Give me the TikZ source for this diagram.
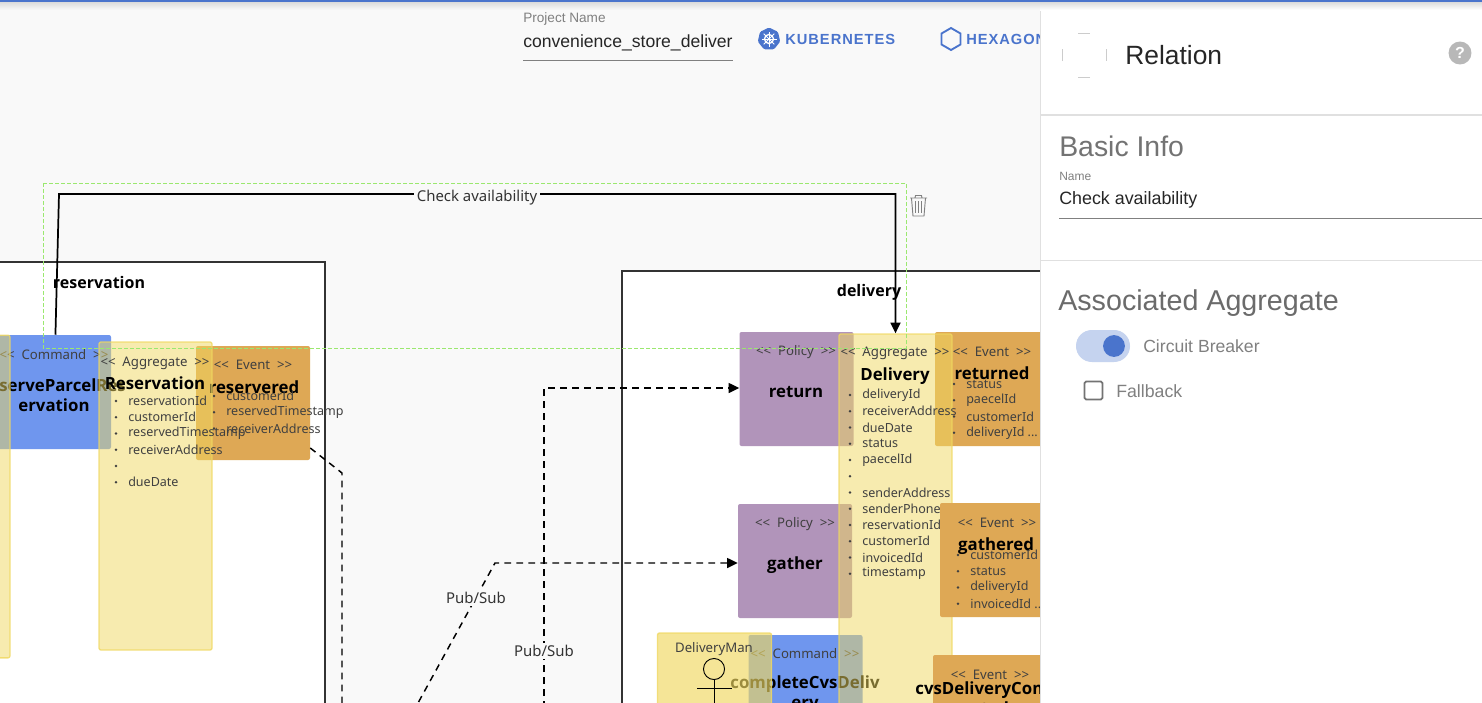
\documentclass[tikz,border=0pt]{standalone}
\usepackage{fontspec}
\usetikzlibrary{arrows.meta}

\newfontfamily\canvasfont{Noto Sans}
\newfontfamily\titlefont{Open Sans}
\newfontfamily\panelfont{Liberation Sans}
\newfontfamily\tabfont[LetterSpace=6.7]{Liberation Sans}

\definecolor{canvasbg}{HTML}{F9F9F9}
\definecolor{cmdblue}{HTML}{6F96EE}
\definecolor{eventorange}{HTML}{DEA855}
\definecolor{policypurple}{HTML}{B194BA}
\definecolor{aggyellow}{HTML}{F0D860}
\definecolor{brandblue}{HTML}{4A74CC}
\definecolor{selgreen}{HTML}{9BE86F}

\tikzset{
	modelbox/.style={rounded corners=1.5pt, minimum width=85.5pt, minimum height=85.5pt, inner sep=0pt},
	commandbox/.style={modelbox, fill=cmdblue},
	eventbox/.style={modelbox, fill=eventorange},
	policybox/.style={modelbox, fill=policypurple},
	aggbox/.style={modelbox, fill=aggyellow, fill opacity=0.5, draw=aggyellow, draw opacity=0.8, line width=1pt},
	actorbox/.style={modelbox, fill=aggyellow, fill opacity=0.65, draw=aggyellow, draw opacity=0.8, line width=1pt},
	framebox/.style={draw=black!80, line width=1.4pt, fill=white, inner sep=0pt},
	stereotext/.style={font=\canvasfont\fontsize{9.9}{11}\selectfont, text=black!75, inner sep=0pt},
	titletext/.style={font=\titlefont\bfseries\fontsize{12.6}{15}\selectfont, text=black, inner sep=0pt, align=center},
	attrtext/.style={font=\canvasfont\fontsize{9.4}{11}\selectfont, text=black!75, inner sep=0pt, anchor=west},
	linktext/.style={font=\canvasfont\fontsize{11.2}{12}\selectfont, text=black!80, fill=canvasbg, inner sep=2pt},
	relline/.style={line width=1.3pt, black},
	pubsub/.style={line width=1.1pt, black, dash pattern=on 5pt off 4pt},
	tip/.style={-{Triangle[length=8pt,width=7.5pt]}},
	paneltext/.style={font=\panelfont\fontsize{#1}{#1}\selectfont, inner sep=0pt, anchor=west},
}

% attributes of a box: left x, first y, name, list
\newcommand{\attrlist}[4]{
	\foreach \attr [count=\i from 0] in {#4} {
		\fill [black!75] ({#1-12},{#2+\i*16.25}) circle (1.1pt);
		\node [attrtext] (#3\i) at (#1,{#2+\i*16.25}) {\attr};
	}
}
\newcommand{\stereo}[1]{<{}<\ \ #1\ \ >{}>}

\begin{document}
\begin{tikzpicture}[x=0.75pt, y=-0.75pt]

\useasboundingbox (0,0) rectangle (1482,703);
\clip (0,0) rectangle (1482,703);

% CANVAS
\fill [canvasbg] (0,0) rectangle (1482,703);

% PROJECT BAR
\node [paneltext=10.2, text=black!50] (projectLabel) at (523,19) {Project Name};
\node [paneltext=13.2, text=black!85] (projectName) at (523,43) {convenience\_store\_deliver};
\draw [black!50, line width=0.7pt] (projectName.west |- 0,60) -- (733,60);

\foreach \a in {0,1,2,3,4,5,6} {
	\coordinate (kube\a) at ({769+11.5*sin(\a*360/7)},{39-11.5*cos(\a*360/7)});
}
\fill [brandblue, rounded corners=1pt] (kube0) -- (kube1) -- (kube2) -- (kube3) -- (kube4) -- (kube5) -- (kube6) -- cycle;
\draw [white, line width=1pt] (769,39) circle (3.4pt);
\foreach \a in {0,45,...,315} {
	\draw [white, line width=0.6pt] (769,39) -- ++(\a:7.5);
}
\node [font=\tabfont\bfseries\fontsize{11}{11}\selectfont, text=brandblue, inner sep=0pt, anchor=west] (kubeTab) at (785,39) {KUBERNETES};
\draw [brandblue, line width=1.4pt] (951,28) -- (960.5,33.5) -- (960.5,44.5) -- (951,50) -- (941.5,44.5) -- (941.5,33.5) -- cycle;
\node [font=\tabfont\bfseries\fontsize{11}{11}\selectfont, text=brandblue, inner sep=0pt, anchor=west] (hexTab) at (966,39) {HEXAGONAL};

% FRAMES
\node [framebox, minimum width=300pt, minimum height=450pt, anchor=north east] (ctxReservation) at (326,261) {};
\node [framebox, minimum width=450pt, minimum height=450pt, anchor=north west] (ctxDelivery) at (621,270) {};
\node [titletext, font=\titlefont\bfseries\fontsize{12}{14}\selectfont] (ctxReservationName) at (99,282) {reservation};
\node [titletext, font=\titlefont\bfseries\fontsize{12}{14}\selectfont] (ctxDeliveryName) at (869,292) {delivery};

% RESERVATION
\node [commandbox] (cmdReserve) at (54,392) {};
\node [stereotext] (cmdReserveType) at (54,355) {\stereo{Command}};
\node [titletext] (cmdReserveName) at (54,395) {reserveParcelRes\\ervation};
\node [eventbox] (evtReservered) at (253,403) {};
\node [stereotext] (evtReserveredType) at (253,365) {\stereo{Event}};
\node [titletext] (evtReserveredName) at (254,387) {reservered};
\attrlist{226}{396}{evtReserveredAttr}{customerId,reservedTimestamp,receiverAddress}
\node [aggbox, minimum width=84.75pt, minimum height=242pt] (aggLeft) at (-46.5,496.5) {};
\node [aggbox, minimum width=84.75pt, minimum height=231pt] (aggReservation) at (155.5,496) {};
\node [stereotext] (aggReservationType) at (155,363) {\stereo{Aggregate}};
\node [titletext] (aggReservationName) at (155,383) {Reservation};
\attrlist{128}{401}{aggReservationAttr}{reservationId,customerId,reservedTimestamp,receiverAddress,{},dueDate}

% DELIVERY
\node [policybox] (plcReturn) at (796.5,389) {};
\node [stereotext] (plcReturnType) at (796,352) {\stereo{Policy}};
\node [titletext] (plcReturnName) at (796,392) {return};
\node [policybox] (plcGather) at (795,561) {};
\node [stereotext] (plcGatherType) at (795,524) {\stereo{Policy}};
\node [titletext] (plcGatherName) at (795,565) {gather};
\node [eventbox] (evtReturned) at (992,389) {};
\node [stereotext] (evtReturnedType) at (992,352) {\stereo{Event}};
\node [titletext] (evtReturnedName) at (992,373) {returned};
\attrlist{966}{384}{evtReturnedAttr}{status,paecelId,customerId,deliveryId {...}}
\node [commandbox] (cmdComplete) at (805.5,692) {};
\node [stereotext] (cmdCompleteType) at (805,654) {\stereo{Command}};
\node [titletext] (cmdCompleteName) at (805,694) {completeCvsDeliv\\ery};
\node [actorbox] (actorMan) at (714.5,690) {};
\node [stereotext] (actorManName) at (714,649) {DeliveryMan};
\draw [black, line width=0.7pt] (714,669) circle (7.9pt);
\draw [black, line width=0.7pt] (714,679.5) -- (714,720) (697,688) -- (732,688);
\node [aggbox, minimum width=84.75pt, minimum height=450pt] (aggDelivery) at (895.5,634) {};
\node [stereotext] (aggDeliveryType) at (895,353) {\stereo{Aggregate}};
\node [titletext] (aggDeliveryName) at (895,376) {Delivery};
\attrlist{862}{395}{aggDeliveryAttr}{deliveryId,receiverAddress,dueDate,status,paecelId,{},senderAddress,senderPhoneNumber,reservationId,customerId,invoicedId,timestamp}
\node [eventbox] (evtGathered) at (997,560) {};
\node [stereotext] (evtGatheredType) at (997,523) {\stereo{Event}};
\node [titletext] (evtGatheredName) at (996,546) {gathered};
\attrlist{970}{555}{evtGatheredAttr}{customerId,status,deliveryId,invoicedId {...}}
\node [eventbox] (evtCvs) at (990,712) {};
\node [stereotext] (evtCvsType) at (990,675) {\stereo{Event}};
\node [titletext] (evtCvsName) at (990,698) {cvsDeliveryCompl\\eted};

% RELATIONS
\coordinate (checkA) at (59,194);
\coordinate (checkB) at (895.5,194);
\draw [relline, tip] (cmdReserve) -- (checkA) -- (checkB) -- (aggDelivery);
\node [linktext] (checkName) at (477,198) {Check availability};

\coordinate (eventBend) at (342,473);
\coordinate (eventEnd) at (342,720);
\draw [pubsub] (evtReservered) -- (eventBend) -- (eventEnd);

\coordinate (returnStart) at (544,720);
\coordinate (returnBend) at (544,388);
\draw [pubsub, tip] (returnStart) -- (returnBend) -- (returnBend -| plcReturn.west);
\node [linktext] (returnName) at (544,651) {Pub/Sub};

\coordinate (gatherStart) at (407,723);
\coordinate (gatherBend) at (495,563);
\draw [pubsub, tip] (gatherStart) -- (gatherBend) -- (gatherBend -| plcGather.west);
\node [linktext] (gatherName) at (476,598) {Pub/Sub};

% SELECTION
\draw [selgreen, line width=0.75pt, dash pattern=on 3pt off 1.5pt] (43,183) rectangle (906,348);
\draw [black!50, line width=0.7pt] (910,198) -- (927,198) (915,198) -- (915.5,195.5) -- (921.5,195.5) -- (922,198);
\draw [black!50, line width=0.7pt] (911.5,198) -- (913,216) -- (924,216) -- (925.5,198);
\foreach \x in {915.5,918.5,921.5} {
	\draw [black!50, line width=0.5pt] (\x,201) -- (\x,213);
}

% PANEL
\fill [white] (1040,0) rectangle (1482,703);
\draw [black!12, line width=0.7pt] (1040.5,0) -- (1040.5,703);
\foreach \a in {0,90,180,270} {
	\draw [black!20, line width=0.6pt] (1084,55) ++(\a:22) ++(\a+90:-6) -- ++(\a+90:12);
}
\node [paneltext=19.8, text=black!85] (panelTitle) at (1125,55) {Relation};
\fill [black!28] (1460,53) circle (8.6pt);
\node [font=\panelfont\bfseries\fontsize{12}{12}\selectfont, text=white, inner sep=0pt] (helpMark) at (1460,53) {?};
\draw [black!12, line width=1pt] (1040,115) -- (1482,115);
\draw [black!12, line width=0.7pt] (1040,260.5) -- (1482,260.5);
\node [paneltext=21.3, text=black!55] (basicInfo) at (1059,146) {Basic Info};
\node [paneltext=9, text=black!50] (nameLabel) at (1059,176) {Name};
\node [paneltext=13.4, text=black!85] (nameValue) at (1059,200) {Check availability};
\draw [black!50, line width=0.7pt] (nameValue.west |- 0,218) -- (1482,218);
\node [paneltext=21.5, text=black!58] (assocTitle) at (1058,303) {Associated Aggregate};
\fill [brandblue!32, rounded corners=11.9pt] (1076,330) rectangle (1130,362);
\fill [brandblue] (1114,346) circle (8.2pt);
\node [paneltext=13.2, text=black!50] (breakerLabel) at (1143,346) {Circuit Breaker};
\draw [black!55, line width=1.3pt, rounded corners=1.2pt] (1084.5,381.5) rectangle (1102.5,399.5);
\node [paneltext=13.3, text=black!50] (fallbackLabel) at (1116,391) {Fallback};

% TOP BAR
\shade [top color=black!14, bottom color=canvasbg] (0,2) rectangle (1040,10);
\shade [top color=black!14, bottom color=white] (1040,2) rectangle (1482,10);
\fill [brandblue] (0,0) rectangle (1482,2);

\end{tikzpicture}
\end{document}
